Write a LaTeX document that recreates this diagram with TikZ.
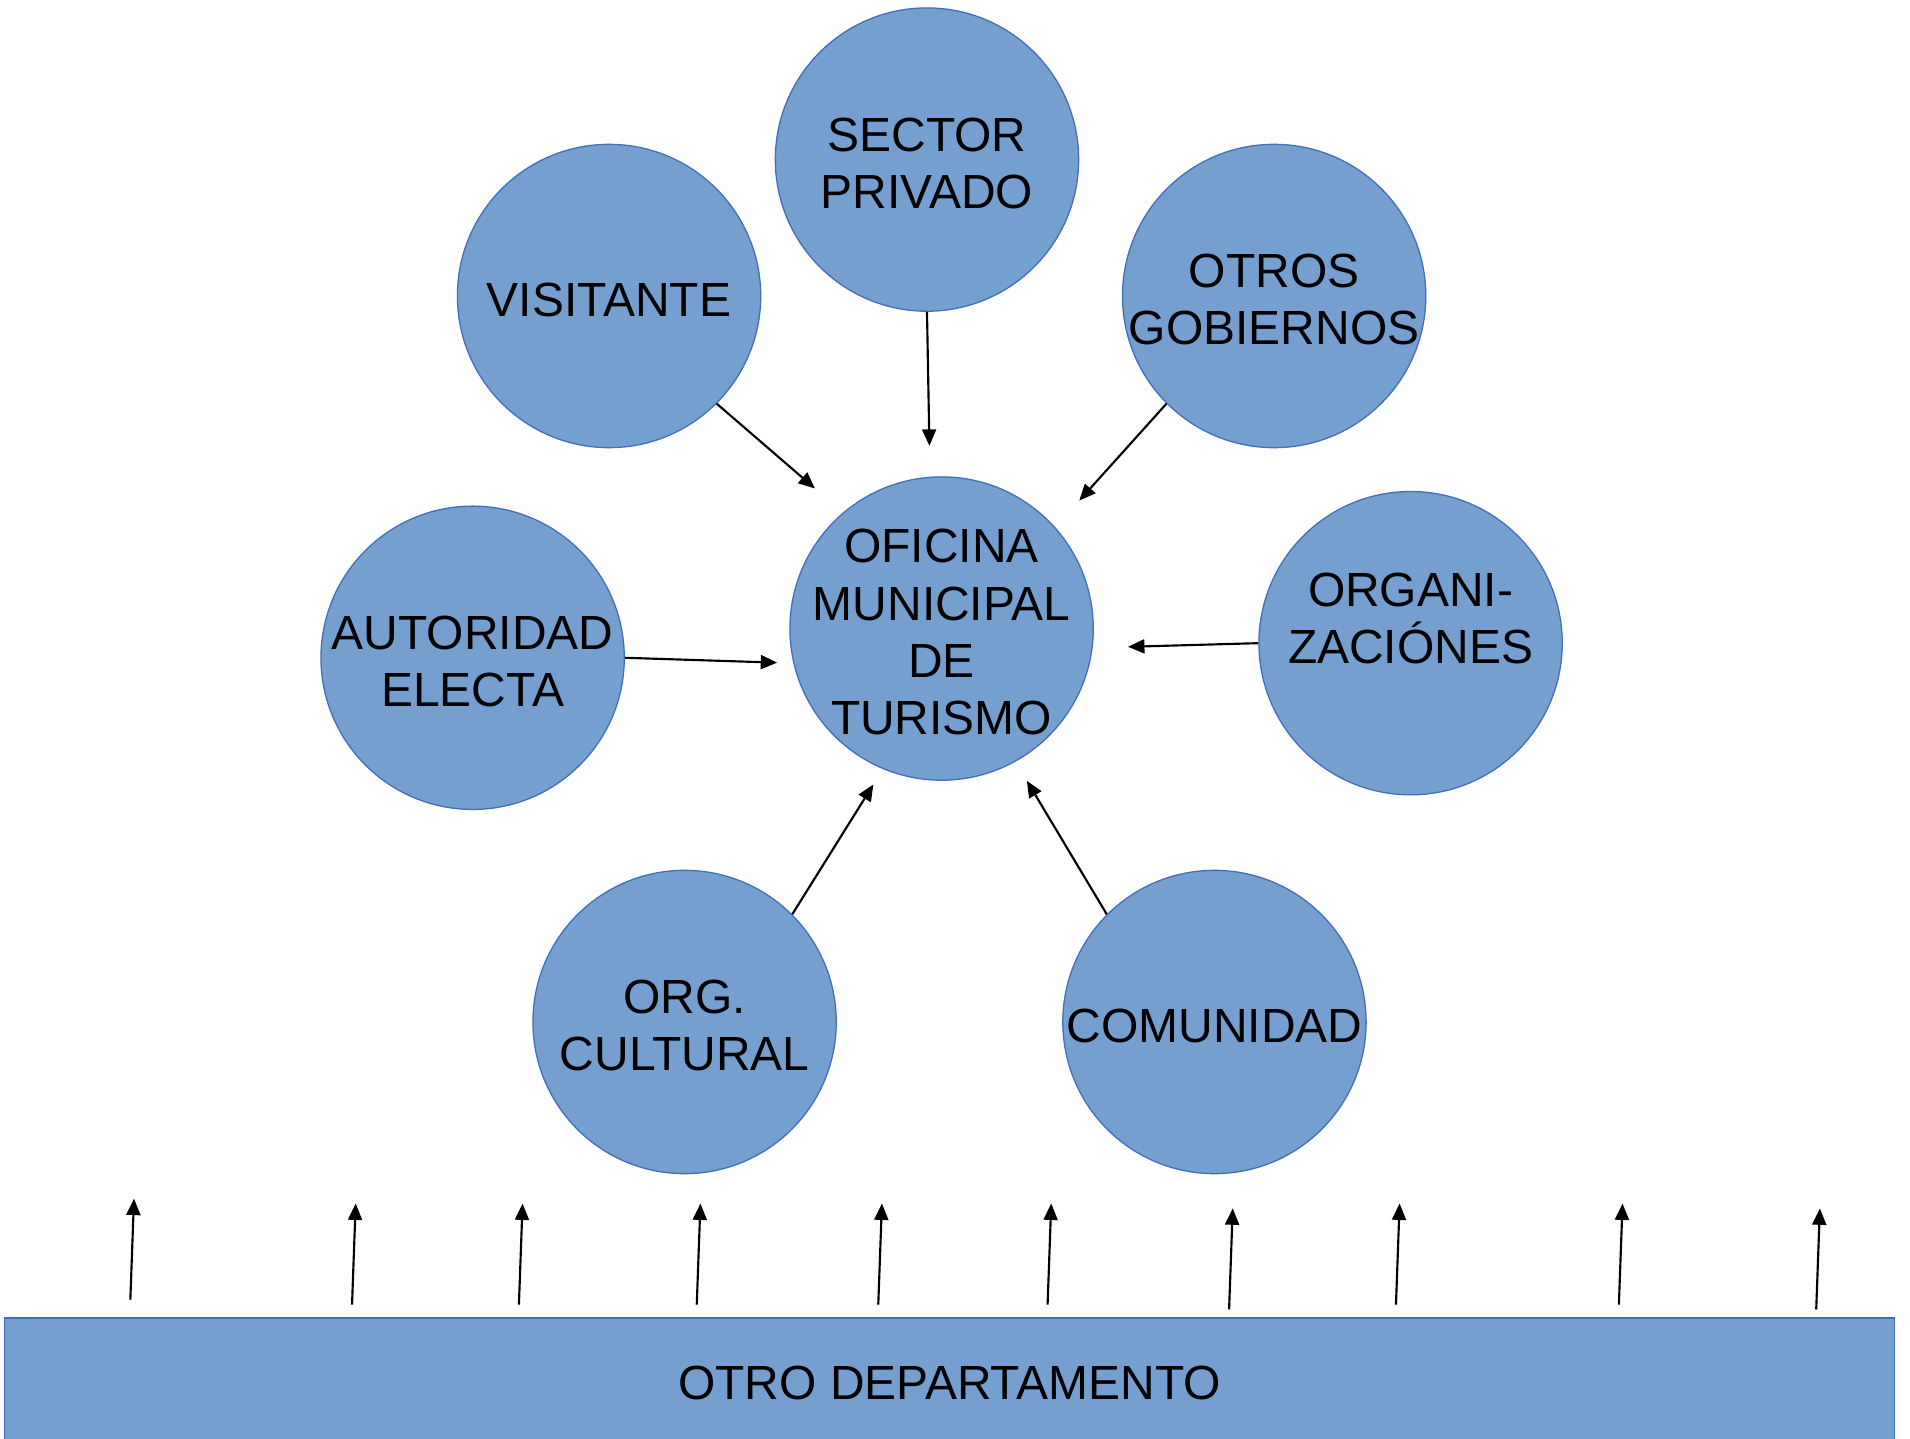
\documentclass[tikz,border=0pt]{standalone}
\usepackage{fontspec}
\setmainfont{Liberation Sans}
\usepackage{tikz}
\usetikzlibrary{arrows.meta}

\definecolor{relleno}{RGB}{116,159,207}
\definecolor{borde}{RGB}{65,110,185}

\tikzset{
  burbuja/.style={circle, draw=borde, line width=0.6pt, fill=relleno, minimum size=49.8mm, inner sep=0pt},
  rotulo/.style={align=center, inner sep=0pt, yshift=-0.6mm, font=\fontsize{22.4}{26.7}\selectfont},
  barra/.style={rectangle, draw=borde, line width=0.6pt, fill=relleno, minimum width=310.2mm, minimum height=21.2mm, font=\fontsize{22.4}{26.7}\selectfont},
  flecha/.style={line width=1pt, -{Triangle[length=2.7mm, width=2.3mm]}}
}

\begin{document}
\begin{tikzpicture}[x=0.2mm, y=-0.2mm]

\useasboundingbox[fill=white] (0, 0) rectangle (1568, 1181);

% circulos
\node[burbuja] (sector) at (761, 131) {};
\node[burbuja] (visit) at (500, 243) {};
\node[burbuja] (otros) at (1046, 243) {};
\node[burbuja] (autor) at (388, 540) {};
\node[burbuja] (ofi) at (773, 516) {};
\node[burbuja] (orgs) at (1158, 528) {};
\node[burbuja] (cult) at (562, 839) {};
\node[burbuja] (comun) at (997, 839) {};

\node[rotulo] (sector-t) at (sector) {SECTOR\\PRIVADO};
\node[rotulo] (visit-t) at (visit) {VISITANTE};
\node[rotulo] (otros-t) at (otros) {OTROS\\GOBIERNOS};
\node[rotulo] (autor-t) at (autor) {AUTORIDAD\\ELECTA};
\node[rotulo] (ofi-t) at (ofi) {OFICINA\\MUNICIPAL\\DE\\TURISMO};
\node[rotulo] (orgs-t) at (1158, 505) {ORGANI-\\ZACIÓNES};
\node[rotulo] (cult-t) at (cult) {ORG.\\CULTURAL};
\node[rotulo] (comun-t) at (comun) {COMUNIDAD};

% puntas de flecha hacia la oficina
\coordinate (tVisit) at (669, 401);
\coordinate (tSector) at (763, 366);
\coordinate (tOtros) at (886, 411);
\coordinate (tAutor) at (638, 544);
\coordinate (tOrgs) at (926, 531);
\coordinate (tCult) at (717, 644);
\coordinate (tComun) at (843, 641);

\draw[flecha] (visit.-45) -- (tVisit);
\draw[flecha] (sector.south) -- (tSector);
\draw[flecha] (otros.225) -- (tOtros);
\draw[flecha] (autor.east) -- (tAutor);
\draw[flecha] (orgs.west) -- (tOrgs);
\draw[flecha] (cult.45) -- (tCult);
\draw[flecha] (comun.135) -- (tComun);

% barra inferior
\node[barra] (otro) at (779.5, 1135) {OTRO DEPARTAMENTO};

\foreach \i/\xa/\ya in {1/107/1067, 2/289/1071, 3/426/1071, 4/572/1071, 5/721/1071,
                        6/860/1071, 7/1009/1075, 8/1146/1071, 9/1329/1071, 10/1491/1075} {
  \coordinate (b\i) at (\xa, \ya);
  \coordinate (a\i) at (\xa + 3, \ya - 83);
  \draw[flecha] (b\i) -- (a\i);
}

\end{tikzpicture}
\end{document}
